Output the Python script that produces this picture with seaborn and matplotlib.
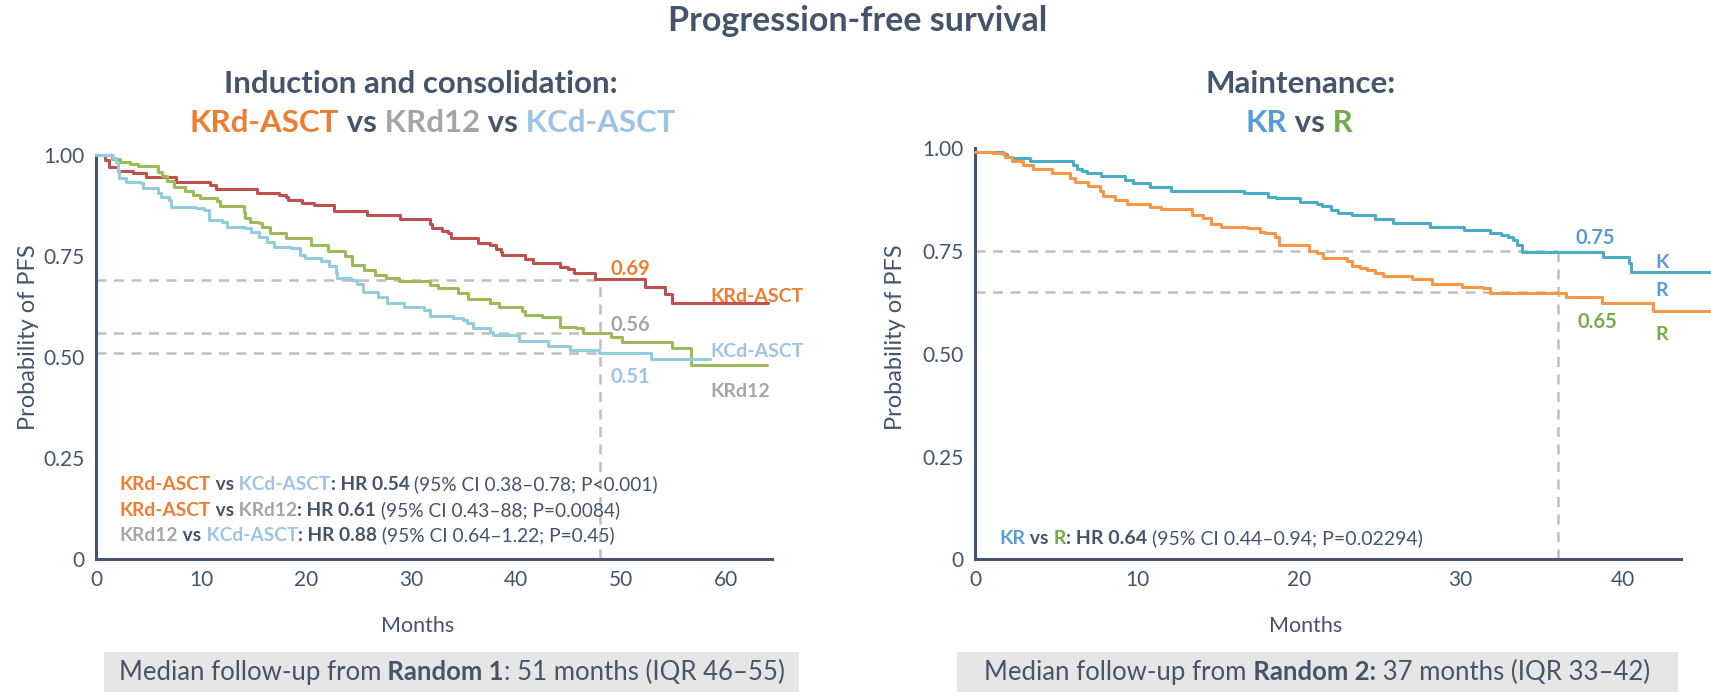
import pandas as pd
import seaborn as sns
import matplotlib.pyplot as plt
from matplotlib.patches import Rectangle
from matplotlib.offsetbox import TextArea, HPacker, AnnotationBbox

# ---- data ----
krd_asct_t = [0, 0.85, 1.2, 2.1, 3.5, 4.8, 7.6, 10.9, 11.4, 15.3, 17.4, 18.1, 18.3, 19.6, 20.8, 22.7, 25.8, 29.0, 31.8, 32.0,
              33.0, 33.5, 33.8, 36.4, 37.5, 38.1, 38.6, 38.7, 40.9, 41.6, 44.2, 45.0, 45.5, 47.5, 52.3, 54.2, 54.9, 64.0]
krd_asct_s = [1.0, .988, .971, .961, .955, .945, .932, .926, .916, .907, .900, .895, .889, .882, .876, .861, .852, .841, .829, .819,
              .813, .806, .795, .783, .778, .767, .761, .753, .742, .734, .724, .717, .709, .693, .674, .656, .633, .633]

krd12_t = [0, 1.5, 2.3, 3.2, 4.0, 5.9, 6.3, 6.8, 7.45, 8.5, 9.2, 9.9, 11.5, 11.8, 14.1, 14.2, 14.7, 15.5, 15.8, 16.6,
           18.1, 20.5, 22.1, 23.7, 24.4, 25.5, 26.6, 27.6, 28.9, 31.8, 32.6, 34.5, 35.4, 37.5, 38.4, 40.6, 40.9, 42.5, 44.2, 45.7,
           46.4, 49.1, 50.1, 54.9, 56.7, 63.9]
krd12_s = [1.0, .989, .983, .978, .973, .959, .948, .935, .922, .911, .901, .893, .885, .875, .860, .843, .835, .831, .821, .806,
           .794, .777, .763, .749, .728, .716, .703, .697, .689, .678, .670, .659, .645, .633, .623, .615, .604, .599, .575, .571,
           .560, .551, .538, .522, .481, .481]

kcd_asct_t = [0, 1.6, 1.95, 2.1, 2.2, 2.9, 4.3, 4.5, 5.9, 6.2, 7.0, 7.1, 9.5, 10.3, 10.75, 12.0, 12.5, 14.2, 14.8, 15.5,
              16.3, 17.0, 18.6, 19.4, 19.9, 21.4, 22.2, 22.9, 23.0, 24.3, 24.9, 25.4, 26.9, 27.7, 29.3, 29.9, 31.2, 31.8, 34.0, 35.0,
              35.3, 35.9, 37.5, 37.8, 40.3, 43.1, 45.2, 47.9, 52.9, 58.5]
kcd_asct_s = [1.0, .992, .983, .963, .942, .934, .930, .918, .905, .897, .889, .872, .868, .864, .839, .835, .823, .819, .810, .798,
              .786, .773, .769, .753, .745, .739, .725, .707, .697, .691, .681, .662, .650, .633, .625, .623, .617, .602, .596, .592,
              .584, .571, .563, .555, .541, .528, .518, .510, .495, .495]

kr_t = [0, 1.75, 1.96, 2.26, 3.4, 6.07, 6.3, 6.6, 6.9, 7.8, 9.26, 9.77, 10.8, 12.1, 16.6, 18.1, 18.6, 20.1, 21.1, 21.4,
        22.0, 22.4, 23.3, 24.7, 25.8, 28.1, 30.2, 31.8, 32.5, 32.9, 33.2, 33.5, 33.8, 38.8, 40.4, 40.5, 45.4]
kr_s = [.992, .986, .980, .976, .970, .960, .950, .945, .939, .933, .923, .916, .905, .897, .892, .882, .878, .870, .864, .860,
        .851, .842, .838, .827, .819, .809, .801, .793, .789, .783, .777, .765, .748, .736, .720, .700, .700]

r_t = [0, 1.13, 1.85, 2.26, 2.98, 3.6, 4.73, 5.86, 6.17, 7.0, 7.7, 7.9, 8.64, 9.36, 10.8, 11.5, 13.4, 14.1, 14.6, 15.2,
       16.8, 17.6, 17.9, 18.5, 18.8, 20.6, 21.1, 21.5, 23.0, 23.3, 23.8, 24.2, 24.7, 25.2, 27.0, 28.2, 30.1, 31.4, 31.8, 36.5,
       38.7, 41.9, 45.4]
r_s = [.992, .988, .980, .970, .959, .949, .941, .927, .919, .908, .895, .884, .874, .865, .856, .852, .838, .830, .816, .809,
       .805, .797, .793, .783, .765, .751, .745, .732, .726, .714, .708, .704, .696, .689, .681, .670, .663, .659, .647, .637,
       .623, .605, .605]

left_medians = [0.69, 0.56, 0.51]
left_landmark = 48
right_medians = [0.75, 0.65]
right_landmark = 36

yticks = [0, 0.25, 0.5, 0.75, 1.0]
yticklabels = ["0", "0.25", "0.50", "0.75", "1.00"]

# ---- colours ----
DARK = "#44546A"
ORANGE = "#ED7D31"
GREY = "#A5A5A5"
LBLUE = "#9DC3E6"
BLUE = "#5B9BD5"
GREEN = "#70AD47"
DASH = "#BFBFBF"
FONT = ["Lato", "DejaVu Sans"]

sns.set_style("white")
plt.rcParams["font.family"] = FONT

W, H = 1711, 692
fig = plt.figure(figsize=(W / 100, H / 100), dpi=100)


def rich(ax, x, y, parts, size, coords, align=(0, 0.5)):
	# several coloured / bold pieces on one baseline
	boxes = [TextArea(s, textprops=dict(color=c, fontweight=w, fontsize=size, family=FONT)) for s, c, w in parts]
	pack = HPacker(children=boxes, align="baseline", pad=0, sep=0)
	ab = AnnotationBbox(pack, (x, y), xycoords=coords, box_alignment=align, frameon=False, pad=0,
	                    annotation_clip=False)
	ax.add_artist(ab)


def style_axes(ax, xmax, xticks):
	ax.set_xlim(0, xmax)
	ax.set_ylim(0, 1)
	ax.set_xticks(xticks)
	ax.set_yticks(yticks)
	ax.set_yticklabels(yticklabels)
	ax.spines["right"].set_visible(False)
	ax.spines["top"].set_visible(False)
	for s in ["left", "bottom"]:
		ax.spines[s].set_color(DARK)
		ax.spines[s].set_linewidth(2.2)
	ax.tick_params(length=5, width=2, color=DARK, labelcolor=DARK, labelsize=15, pad=3)
	ax.set_xlabel("Months", fontsize=15.5, color=DARK)
	ax.set_ylabel("Probability of PFS", fontsize=17, color=DARK)
	ax.xaxis.label.set_va("center")
	ax.yaxis.label.set_va("center")


# ---------------- left panel ----------------
ax1 = fig.add_axes([96 / W, 1 - 559.3 / H, 676 / W, 404.3 / H])

df1 = pd.concat([
	pd.DataFrame({"month": krd_asct_t, "pfs": krd_asct_s, "arm": "KRd-ASCT"}),
	pd.DataFrame({"month": krd12_t, "pfs": krd12_s, "arm": "KRd12"}),
	pd.DataFrame({"month": kcd_asct_t, "pfs": kcd_asct_s, "arm": "KCd-ASCT"}),
])

for m in left_medians:
	ax1.plot([0, left_landmark], [m, m], color=DASH, lw=1.8, ls=(0, (4, 3)), zorder=1)
ax1.plot([left_landmark, left_landmark], [0, left_medians[0]], color=DASH, lw=1.8, ls=(0, (4, 3)), zorder=1)

sns.lineplot(data=df1, x="month", y="pfs", hue="arm", ax=ax1, estimator=None, sort=False,
             palette={"KRd-ASCT": "#C0504D", "KRd12": "#9BBB59", "KCd-ASCT": "#93CDDD"},
             drawstyle="steps-post", linewidth=2.2, legend=False, clip_on=False, zorder=3)

style_axes(ax1, 64.4, [0, 10, 20, 30, 40, 50, 60])
ax1.xaxis.set_label_coords(0.476, -0.165)
ax1.yaxis.set_label_coords(-0.100, 0.55)

num = dict(fontsize=14.5, fontweight="bold", va="center", ha="left")
lab = dict(fontsize=14, fontweight="bold", va="center", ha="left")
ax1.text(49.0, 0.717, "0.69", color=ORANGE, **num)
ax1.text(49.0, 0.580, "0.56", color=GREY, **num)
ax1.text(49.0, 0.452, "0.51", color=LBLUE, **num)
ax1.text(58.5, 0.651, "KRd-ASCT", color=ORANGE, **lab)
ax1.text(58.5, 0.513, "KCd-ASCT", color=LBLUE, **lab)
ax1.text(58.5, 0.415, "KRd12", color=GREY, **lab)

hr_size = 13.8
rich(ax1, 0.0355, 0.186, [("KRd-ASCT", ORANGE, "bold"), (" vs", DARK, "bold"), (" KCd-ASCT", LBLUE, "bold"),
                          (": HR 0.54", DARK, "bold"), (" (95% CI 0.38\u20130.78; P<0.001)", DARK, "normal")],
     hr_size, "axes fraction")
rich(ax1, 0.0355, 0.122, [("KRd-ASCT", ORANGE, "bold"), (" vs", DARK, "bold"), (" KRd12", GREY, "bold"),
                          (": HR 0.61", DARK, "bold"), (" (95% CI 0.43\u201388; P=0.0084)", DARK, "normal")],
     hr_size, "axes fraction")
rich(ax1, 0.0355, 0.060, [("KRd12", GREY, "bold"), (" vs", DARK, "bold"), (" KCd-ASCT", LBLUE, "bold"),
                          (": HR 0.88", DARK, "bold"), (" (95% CI 0.64\u20131.22; P=0.45)", DARK, "normal")],
     hr_size, "axes fraction")

# ---------------- right panel ----------------
ax2 = fig.add_axes([975 / W, 1 - 559.3 / H, 706 / W, 411 / H])

df2 = pd.concat([
	pd.DataFrame({"month": kr_t, "pfs": kr_s, "arm": "KR"}),
	pd.DataFrame({"month": r_t, "pfs": r_s, "arm": "R"}),
])

for m in right_medians:
	ax2.plot([0, right_landmark], [m, m], color=DASH, lw=1.8, ls=(0, (4, 3)), zorder=1)
ax2.plot([right_landmark, right_landmark], [0, right_medians[0]], color=DASH, lw=1.8, ls=(0, (4, 3)), zorder=1)

sns.lineplot(data=df2, x="month", y="pfs", hue="arm", ax=ax2, estimator=None, sort=False,
             palette={"KR": "#4BACC6", "R": "#F79646"},
             drawstyle="steps-post", linewidth=2.2, legend=False, clip_on=False, zorder=3)

style_axes(ax2, 43.6, [0, 10, 20, 30, 40])
ax2.xaxis.set_label_coords(0.469, -0.162)
ax2.yaxis.set_label_coords(-0.112, 0.54)

ax2.text(37.1, 0.781, "0.75", color=BLUE, **num)
ax2.text(37.2, 0.578, "0.65", color=GREEN, **num)
ax2.text(42.0, 0.721, "K", color=BLUE, **lab)
ax2.text(42.0, 0.654, "R", color=BLUE, **lab)
ax2.text(42.0, 0.548, "R", color=GREEN, **lab)

rich(ax2, 0.034, 0.051, [("KR", BLUE, "bold"), (" vs", DARK, "bold"), (" R", GREEN, "bold"),
                         (": HR 0.64", DARK, "bold"), (" (95% CI 0.44\u20130.94; P=0.02294)", DARK, "normal")],
     14, "axes fraction")

# ---------------- titles ----------------
fig.text(0.5015, 0.970, "Progression-free survival", ha="center", va="center", fontsize=24.5,
         fontweight="bold", color=DARK)
fig.text(0.246, 0.879, "Induction and consolidation:", ha="center", va="center", fontsize=22.5,
         fontweight="bold", color=DARK)
rich(ax1, 0.253, 0.822, [("KRd-ASCT", ORANGE, "bold"), (" vs", DARK, "bold"), (" KRd12", GREY, "bold"),
                         (" vs", DARK, "bold"), (" KCd-ASCT", LBLUE, "bold")], 22.5, "figure fraction", (0.5, 0.5))
fig.text(0.760, 0.879, "Maintenance:", ha="center", va="center", fontsize=22.5,
         fontweight="bold", color=DARK)
rich(ax2, 0.759, 0.822, [("KR", BLUE, "bold"), (" vs", DARK, "bold"), (" R", GREEN, "bold")],
     22.5, "figure fraction", (0.5, 0.5))

# ---------------- follow-up boxes ----------------
fig.patches.append(Rectangle((104 / W, 0), 695 / W, 40 / H, transform=fig.transFigure,
                             facecolor="#E7E6E6", edgecolor="none", zorder=-1))
fig.patches.append(Rectangle((957 / W, 0), 721 / W, 40 / H, transform=fig.transFigure,
                             facecolor="#E7E6E6", edgecolor="none", zorder=-1))
rich(ax1, 451.5 / W, 0.028, [("Median follow-up from", DARK, "normal"), (" Random 1", DARK, "bold"),
                             (": 51 months (IQR 46\u201355)", DARK, "normal")], 18.5, "figure fraction", (0.5, 0.5))
rich(ax2, 1317 / W, 0.028, [("Median follow-up from", DARK, "normal"), (" Random 2:", DARK, "bold"),
                            (" 37 months (IQR 33\u201342)", DARK, "normal")], 18.5, "figure fraction", (0.5, 0.5))

plt.savefig("out.png", dpi=100)
